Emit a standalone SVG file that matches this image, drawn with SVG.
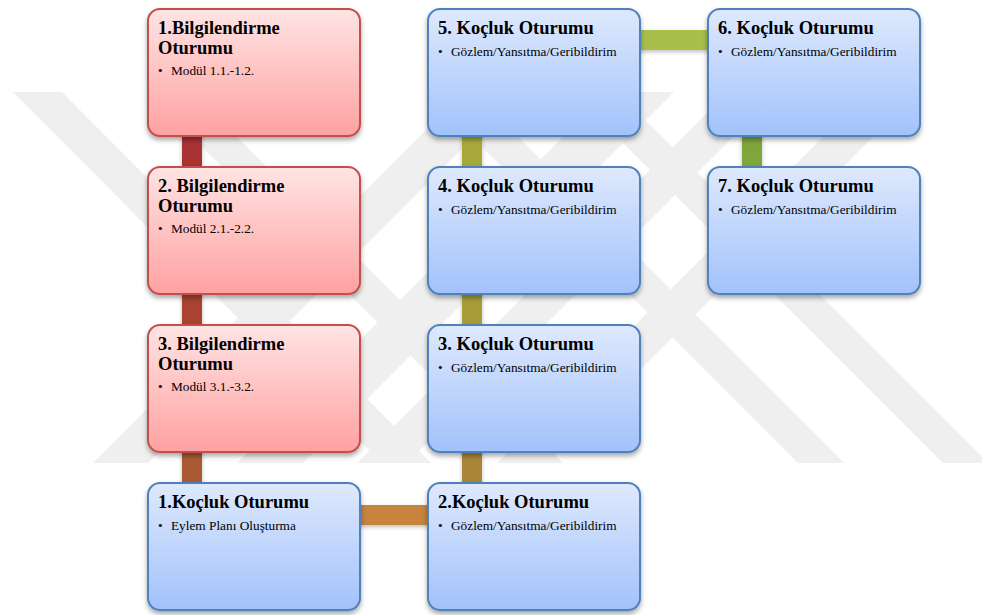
<svg xmlns="http://www.w3.org/2000/svg" width="982" height="615" viewBox="0 0 982 615">
<style>
  .box-r { fill: url(#gRed); stroke: #c0504d; stroke-width: 2; filter: url(#sh); }
  .box-b { fill: url(#gBlue); stroke: #4f81bd; stroke-width: 2; filter: url(#sh); }
  .bar { filter: url(#shBar); }
  .t { font-family: "Liberation Serif", "Times New Roman", serif; font-weight: bold; font-size: 18.5px; fill: #000; }
  .b { font-family: "Liberation Serif", "Times New Roman", serif; font-size: 13.3px; fill: #000; }
</style>
<defs>
  <linearGradient id="gRed" x1="0" y1="0" x2="0" y2="1">
    <stop offset="0" stop-color="#ffe4e4"/>
    <stop offset="1" stop-color="#ffa1a1"/>
  </linearGradient>
  <linearGradient id="gBlue" x1="0" y1="0" x2="0" y2="1">
    <stop offset="0" stop-color="#dee9fd"/>
    <stop offset="1" stop-color="#a2c2fb"/>
  </linearGradient>
  <filter id="sh" x="-10%" y="-10%" width="120%" height="125%">
    <feDropShadow dx="0" dy="3" stdDeviation="2.5" flood-color="#000" flood-opacity="0.35"/>
  </filter>
  <filter id="shBar" x="-20%" y="-20%" width="140%" height="160%">
    <feDropShadow dx="0" dy="2" stdDeviation="2" flood-color="#000" flood-opacity="0.25"/>
  </filter>
</defs>

<g id="watermark" fill="#efefef">
  <polygon points="13,92 62,92 431,463 382,463"/>
  <polygon points="147,92 192,92 563,463 518,463"/>
  <polygon points="464,92 519,92 148,463 93,463"/>
  <polygon points="608,92 674,92 303,463 237,463"/>
  <polygon points="427,92 473,92 844,463 798,463"/>
  <polygon points="572,92 617,92 988,463 943,463"/>
  <polygon points="728,92 778,92 407,463 357,463"/>
  <polygon points="868,92 918,92 547,463 497,463"/>
</g>

<g id="connectors">
  <rect class="bar" x="182" y="130" width="20" height="44" fill="#a93131"/>
  <rect class="bar" x="182" y="288" width="20" height="44" fill="#ab4333"/>
  <rect class="bar" x="182" y="446" width="20" height="44" fill="#aa5a32"/>
  <rect class="bar" x="354" y="505" width="80" height="20" fill="#c6843c"/>
  <rect class="bar" x="462" y="446" width="20" height="44" fill="#a88636"/>
  <rect class="bar" x="462" y="288" width="20" height="44" fill="#a89c38"/>
  <rect class="bar" x="462" y="130" width="20" height="44" fill="#a7a93a"/>
  <rect class="bar" x="634" y="30" width="80" height="20" fill="#a8c04a"/>
  <rect class="bar" x="742" y="130" width="20" height="44" fill="#7ea63a"/>
</g>

<g id="bilgi1" transform="translate(148,9)">
  <rect class="box-r" x="0" y="0" width="212" height="127" rx="12"/>
  <text class="t" x="10" y="25">1.Bilgilendirme</text>
  <text class="t" x="10" y="45">Oturumu</text>
  <text class="b" x="10" y="66">•</text>
  <text class="b" x="23" y="66">Modül 1.1.-1.2.</text>
</g>
<g id="bilgi2" transform="translate(148,167)">
  <rect class="box-r" x="0" y="0" width="212" height="127" rx="12"/>
  <text class="t" x="10" y="25">2. Bilgilendirme</text>
  <text class="t" x="10" y="45">Oturumu</text>
  <text class="b" x="10" y="66">•</text>
  <text class="b" x="23" y="66">Modül 2.1.-2.2.</text>
</g>
<g id="bilgi3" transform="translate(148,325)">
  <rect class="box-r" x="0" y="0" width="212" height="127" rx="12"/>
  <text class="t" x="10" y="25">3. Bilgilendirme</text>
  <text class="t" x="10" y="45">Oturumu</text>
  <text class="b" x="10" y="66">•</text>
  <text class="b" x="23" y="66">Modül 3.1.-3.2.</text>
</g>
<g id="kocluk1" transform="translate(148,483)">
  <rect class="box-b" x="0" y="0" width="212" height="127" rx="12"/>
  <text class="t" x="10" y="25">1.Koçluk Oturumu</text>
  <text class="b" x="10" y="47">•</text>
  <text class="b" x="23" y="47">Eylem Planı Oluşturma</text>
</g>
<g id="kocluk2" transform="translate(428,483)">
  <rect class="box-b" x="0" y="0" width="212" height="127" rx="12"/>
  <text class="t" x="10" y="25">2.Koçluk Oturumu</text>
  <text class="b" x="10" y="47">•</text>
  <text class="b" x="23" y="47">Gözlem/Yansıtma/Geribildirim</text>
</g>
<g id="kocluk3" transform="translate(428,325)">
  <rect class="box-b" x="0" y="0" width="212" height="127" rx="12"/>
  <text class="t" x="10" y="25">3. Koçluk Oturumu</text>
  <text class="b" x="10" y="47">•</text>
  <text class="b" x="23" y="47">Gözlem/Yansıtma/Geribildirim</text>
</g>
<g id="kocluk4" transform="translate(428,167)">
  <rect class="box-b" x="0" y="0" width="212" height="127" rx="12"/>
  <text class="t" x="10" y="25">4. Koçluk Oturumu</text>
  <text class="b" x="10" y="47">•</text>
  <text class="b" x="23" y="47">Gözlem/Yansıtma/Geribildirim</text>
</g>
<g id="kocluk5" transform="translate(428,9)">
  <rect class="box-b" x="0" y="0" width="212" height="127" rx="12"/>
  <text class="t" x="10" y="25">5. Koçluk Oturumu</text>
  <text class="b" x="10" y="47">•</text>
  <text class="b" x="23" y="47">Gözlem/Yansıtma/Geribildirim</text>
</g>
<g id="kocluk6" transform="translate(708,9)">
  <rect class="box-b" x="0" y="0" width="212" height="127" rx="12"/>
  <text class="t" x="10" y="25">6. Koçluk Oturumu</text>
  <text class="b" x="10" y="47">•</text>
  <text class="b" x="23" y="47">Gözlem/Yansıtma/Geribildirim</text>
</g>
<g id="kocluk7" transform="translate(708,167)">
  <rect class="box-b" x="0" y="0" width="212" height="127" rx="12"/>
  <text class="t" x="10" y="25">7. Koçluk Oturumu</text>
  <text class="b" x="10" y="47">•</text>
  <text class="b" x="23" y="47">Gözlem/Yansıtma/Geribildirim</text>
</g>
</svg>
